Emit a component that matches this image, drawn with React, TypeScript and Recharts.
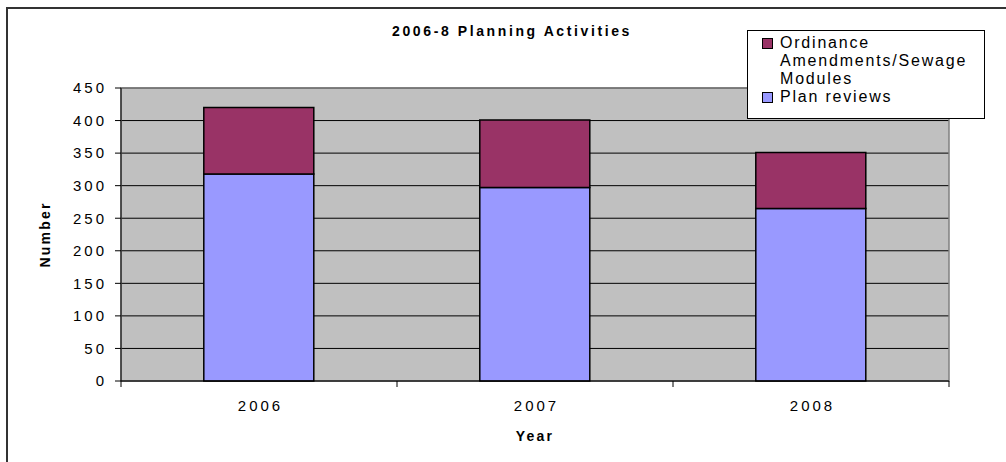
import { Bar, BarChart, CartesianGrid, ReferenceArea, XAxis, YAxis } from "recharts";

const years = ["2006", "2007", "2008"];
const planReviews = [318, 297, 265];
const ordinance = [102, 104, 86];
const yTicks = [0, 50, 100, 150, 200, 250, 300, 350, 400, 450];

const seriesNames = {
  plan: "Plan reviews",
  ord: "Ordinance Amendments/Sewage Modules",
};

const data = years.map((year, i) => ({
  year,
  plan: planReviews[i],
  ord: ordinance[i],
}));

const FONT = '"Liberation Sans", Arial, sans-serif';
const TICK_SPACING = 3;

function YearTick(props: any) {
  const { x, y, payload, index, visibleTicksCount, width } = props;
  const half = width / years.length / 2;
  const axisY = y - 19;
  return (
    <g>
      <line x1={x - half} x2={x - half} y1={axisY} y2={axisY + 6} stroke="#000" />
      {index === visibleTicksCount - 1 && (
        <line x1={x + half} x2={x + half} y1={axisY} y2={axisY + 6} stroke="#000" />
      )}
      <text
        x={x + TICK_SPACING / 2}
        y={y}
        dy="0.71em"
        textAnchor="middle"
        fontSize={15}
        letterSpacing={TICK_SPACING}
        fill="#000"
        fontFamily={FONT}
      >
        {payload.value}
      </text>
    </g>
  );
}

function LegendBox() {
  const items = [
    { name: seriesNames.ord, color: "#993366" },
    { name: seriesNames.plan, color: "#9999FF" },
  ];
  return (
    <div
      style={{
        position: "absolute",
        left: 747,
        top: 30,
        width: 238,
        height: 89,
        boxSizing: "border-box",
        border: "1px solid #000",
        background: "#fff",
        paddingTop: 3,
        fontFamily: FONT,
        fontSize: 16,
        letterSpacing: 1.8,
        lineHeight: "18px",
        color: "#000",
      }}
    >
      {items.map((it) => (
        <div key={it.name} style={{ display: "flex", alignItems: "flex-start" }}>
          <span
            style={{
              width: 9,
              height: 9,
              marginTop: 4,
              marginLeft: 14,
              marginRight: 7,
              border: "1px solid #000",
              background: it.color,
              flex: "none",
            }}
          />
          <span style={{ width: 205 }}>{it.name}</span>
        </div>
      ))}
    </div>
  );
}

export default function App() {
  return (
    <div style={{ position: "absolute", left: 0, top: 0, width: 1006, height: 462, overflow: "hidden", background: "#fff" }}>
      <div style={{ position: "absolute", left: 0, top: 0 }}>
        <BarChart
          width={1006}
          height={462}
          data={data}
          margin={{ top: 88, right: 57, bottom: 19, left: 0 }}
          barCategoryGap="30%"
        >
          <CartesianGrid vertical={false} stroke="#000" fill="#C0C0C0" fillOpacity={1} />
          <ReferenceArea y1={0} y2={450} fill="none" stroke="#808080" strokeWidth={1.5} ifOverflow="visible" />
          <XAxis
            dataKey="year"
            tickLine={false}
            axisLine={{ stroke: "#000" }}
            tick={<YearTick />}
            tickSize={5}
            tickMargin={14}
            height={62}
            interval={0}
            label={{
              value: "Year",
              position: "insideBottom",
              offset: 2,
              style: { fontFamily: FONT, fontWeight: "bold", fontSize: 14, letterSpacing: 2.2, fill: "#000" },
            }}
          />
          <YAxis
            domain={[0, 450]}
            ticks={yTicks}
            interval={0}
            width={121}
            tickSize={6}
            tickMargin={8}
            axisLine={{ stroke: "#000" }}
            tickLine={{ stroke: "#000" }}
            tick={{ fontSize: 15, letterSpacing: TICK_SPACING, fill: "#000", fontFamily: FONT }}
            label={{
              value: "Number",
              angle: -90,
              position: "insideLeft",
              offset: 45,
              style: { textAnchor: "middle", fontFamily: FONT, fontWeight: "bold", fontSize: 14, letterSpacing: 2.2, fill: "#000" },
            }}
          />
          <Bar dataKey="plan" name={seriesNames.plan} stackId="a" fill="#9999FF" stroke="#000" strokeWidth={1.5} isAnimationActive={false} />
          <Bar dataKey="ord" name={seriesNames.ord} stackId="a" fill="#993366" stroke="#000" strokeWidth={1.5} isAnimationActive={false} />
        </BarChart>
      </div>
      <div
        style={{
          position: "absolute",
          left: 312,
          width: 400,
          top: 23,
          textAlign: "center",
          fontFamily: FONT,
          fontWeight: "bold",
          fontSize: 14,
          letterSpacing: 2.6,
          color: "#000",
        }}
      >
        2006-8 Planning Activities
      </div>
      <LegendBox />
      <div style={{ position: "absolute", left: 6, top: 7, width: 1000, height: 2, background: "#333" }} />
      <div style={{ position: "absolute", left: 6, top: 7, width: 2, height: 455, background: "#333" }} />
    </div>
  );
}
